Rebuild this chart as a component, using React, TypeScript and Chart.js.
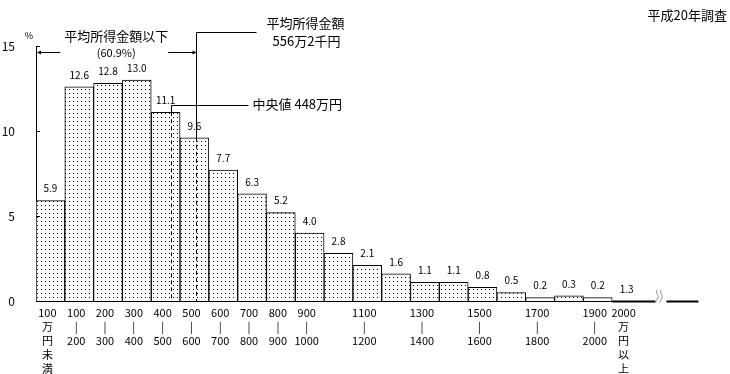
import React, { useEffect, useRef } from "react";
import { Chart, registerables } from "chart.js";

Chart.register(...registerables);

const FONT = '"Noto Sans CJK JP", "Noto Sans", sans-serif';

// 所得金額階級（万円）
const categories = [
  "100万円未満", "100-200", "200-300", "300-400", "400-500", "500-600", "600-700",
  "700-800", "800-900", "900-1000", "1000-1100", "1100-1200", "1200-1300", "1300-1400",
  "1400-1500", "1500-1600", "1600-1700", "1700-1800", "1800-1900", "1900-2000", "2000万円以上",
];
const tickLabels: string[][] = [
  ["100", "万", "円", "未", "満"],
  ["100", "|", "200"], ["200", "|", "300"], ["300", "|", "400"], ["400", "|", "500"],
  ["500", "|", "600"], ["600", "|", "700"], ["700", "|", "800"], ["800", "|", "900"],
  ["900", "|", "1000"], [""], ["1100", "|", "1200"], [""], ["1300", "|", "1400"], [""],
  ["1500", "|", "1600"], [""], ["1700", "|", "1800"], [""], ["1900", "|", "2000"],
  ["2000", "万", "円", "以", "上"],
];
// 相対度数（%）
const values = [5.9, 12.6, 12.8, 13.0, 11.1, 9.6, 7.7, 6.3, 5.2, 4.0, 2.8, 2.1, 1.6, 1.1, 1.1, 0.8, 0.5, 0.2, 0.3, 0.2, 1.3];
const yTicks = [0, 5, 10, 15];
const meanIncome = 556.2; // 平均所得金額（万円）
const meanLabel = ["平均所得金額", "556万2千円"];
const medianLabel = "中央値 448万円";
const medianMarkerAt = 468; // 図上の中央値マーカー位置（万円）
const belowMeanLabel = ["平均所得金額以下", "(60.9%)"];
const surveyLabel = "平成20年調査";
const OPEN = values.length - 1; // 2000万円以上（開放階級）

const incomeToIndex = (v: number) => (v - 50) / 100;

function makePattern(): CanvasPattern | string {
  const c = document.createElement("canvas");
  c.width = 4;
  c.height = 4;
  const g = c.getContext("2d");
  if (!g) return "#fff";
  g.fillStyle = "#fff";
  g.fillRect(0, 0, 4, 4);
  g.fillStyle = "#000";
  g.fillRect(1, 1, 1, 1);
  return g.createPattern(c, "repeat") || "#fff";
}

const annotations = {
  id: "annotations",
  afterDraw(chart: any) {
    const ctx: CanvasRenderingContext2D = chart.ctx;
    const xs = chart.scales.x;
    const ys = chart.scales.y;
    const area = chart.chartArea;
    const base = ys.getPixelForValue(0);
    const r = (v: number) => Math.round(v) + 0.5;
    const line = (x1: number, y1: number, x2: number, y2: number) => {
      ctx.beginPath();
      ctx.moveTo(x1, y1);
      ctx.lineTo(x2, y2);
      ctx.stroke();
    };
    ctx.save();
    ctx.strokeStyle = "#000";
    ctx.fillStyle = "#000";
    ctx.lineWidth = 1;

    // inward y ticks
    yTicks.filter((t) => t > 0).forEach((t) => {
      const py = r(ys.getPixelForValue(t));
      line(area.left, py, area.left + 4, py);
    });

    // value labels
    ctx.font = `10px ${FONT}`;
    ctx.textAlign = "center";
    ctx.textBaseline = "middle";
    values.forEach((v, i) => {
      const px = xs.getPixelForValue(i);
      const top = i === OPEN ? base : ys.getPixelForValue(v);
      ctx.fillText(v.toFixed(1), px, top - 12);
    });

    // open-ended class baseline and break mark
    const bw = xs.getPixelForValue(1) - xs.getPixelForValue(0);
    const oL = xs.getPixelForValue(OPEN - 0.5);
    const oR = oL + bw * 1.5;
    ctx.fillRect(oL, base - 0.5, oR - oL, 2);
    ctx.fillRect(oR + 11, base - 0.5, 32, 2);
    ctx.strokeStyle = "#888";
    for (const dx of [1, 5]) {
      const sx = oR + dx;
      ctx.beginPath();
      ctx.moveTo(sx + 1, base - 11);
      ctx.bezierCurveTo(sx - 2, base - 8, sx + 4, base - 5, sx + 1, base - 2);
      ctx.bezierCurveTo(sx - 1, base, sx, base + 1, sx - 1, base + 2);
      ctx.stroke();
    }
    ctx.strokeStyle = "#000";

    // mean line
    const meanIdx = incomeToIndex(meanIncome);
    const meanX = r(xs.getPixelForValue(meanIdx));
    const meanTop = ys.getPixelForValue(values[Math.round(meanIdx)]);
    const topY = 32.5;
    line(meanX, topY, meanX, meanTop);
    line(meanX, topY, meanX + 60, topY);
    ctx.setLineDash([4, 3]);
    line(meanX, meanTop, meanX, base);
    ctx.setLineDash([]);
    ctx.font = `13px ${FONT}`;
    ctx.fillText(meanLabel[0], meanX + 109, 23);
    ctx.fillText(meanLabel[1], meanX + 110, 41);

    // median line
    const medIdx = incomeToIndex(medianMarkerAt);
    const medX = r(xs.getPixelForValue(medIdx));
    const medTop = ys.getPixelForValue(values[Math.round(medIdx)]);
    const medY = 105.5;
    line(medX, medY, medX, medTop);
    line(medX, medY, medX + 77, medY);
    ctx.setLineDash([4, 3]);
    line(medX, medTop, medX, base);
    ctx.setLineDash([]);
    ctx.textAlign = "left";
    ctx.fillText(medianLabel, medX + 81, 104);

    // below-mean bracket
    const cx = (area.left + meanX) / 2;
    const ay = 52.5;
    ctx.textAlign = "center";
    ctx.fillText(belowMeanLabel[0], cx, 36);
    ctx.font = `11px ${FONT}`;
    ctx.fillText(belowMeanLabel[1], cx, 53);
    line(area.left + 2, ay, cx - 56, ay);
    line(cx + 52, ay, meanX - 2, ay);
    ctx.beginPath();
    ctx.moveTo(area.left + 1, ay);
    ctx.lineTo(area.left + 5, ay - 2);
    ctx.lineTo(area.left + 5, ay + 2);
    ctx.closePath();
    ctx.fill();
    ctx.beginPath();
    ctx.moveTo(meanX, ay);
    ctx.lineTo(meanX - 4, ay - 2);
    ctx.lineTo(meanX - 4, ay + 2);
    ctx.closePath();
    ctx.fill();

    // unit and survey note
    ctx.font = `9px ${FONT}`;
    ctx.fillText("%", 29, 36);
    ctx.font = `13px ${FONT}`;
    ctx.textAlign = "right";
    ctx.fillText(surveyLabel, 727, 15);
    ctx.restore();
  },
};

export default function App() {
  const ref = useRef<HTMLCanvasElement | null>(null);
  useEffect(() => {
    if (!ref.current) return;
    Chart.defaults.font.family = FONT;
    const chart = new Chart(ref.current, {
      type: "bar",
      data: {
        labels: tickLabels as any,
        datasets: [
          {
            label: "所得金額階級別世帯数の相対度数",
            data: values.map((v, i) => (i === OPEN ? null : v)) as any,
            backgroundColor: makePattern() as any,
            borderColor: "#000",
            borderWidth: 1,
            categoryPercentage: 1,
            barPercentage: 1,
          },
        ],
      },
      options: {
        responsive: false,
        animation: false,
        layout: { padding: { left: 0, right: 89, top: 46, bottom: 0 } },
        plugins: { legend: { display: false }, tooltip: { enabled: false } },
        scales: {
          x: {
            afterFit: (s: any) => { s.height = 73; },
            grid: { display: false, drawTicks: false },
            border: { display: true, color: "#000", width: 1 },
            ticks: {
              autoSkip: false,
              maxRotation: 0,
              minRotation: 0,
              padding: 5,
              labelOffset: -3,
              color: "#000",
              font: { size: 11, family: FONT, lineHeight: 14 / 11 },
            },
          },
          y: {
            min: 0,
            max: 15,
            afterFit: (s: any) => { s.width = 36; },
            grid: { display: false, drawTicks: false },
            border: { display: true, color: "#000", width: 1 },
            ticks: { stepSize: 5, padding: 21, color: "#000", font: { size: 12, family: FONT } },
          },
        },
      },
      plugins: [annotations],
    });
    return () => chart.destroy();
  }, []);
  return (
    <div style={{ position: "fixed", left: 0, top: 0, width: 730, height: 374, background: "#fff" }}>
      <canvas ref={ref} width={730} height={374} style={{ display: "block" }} />
    </div>
  );
}
